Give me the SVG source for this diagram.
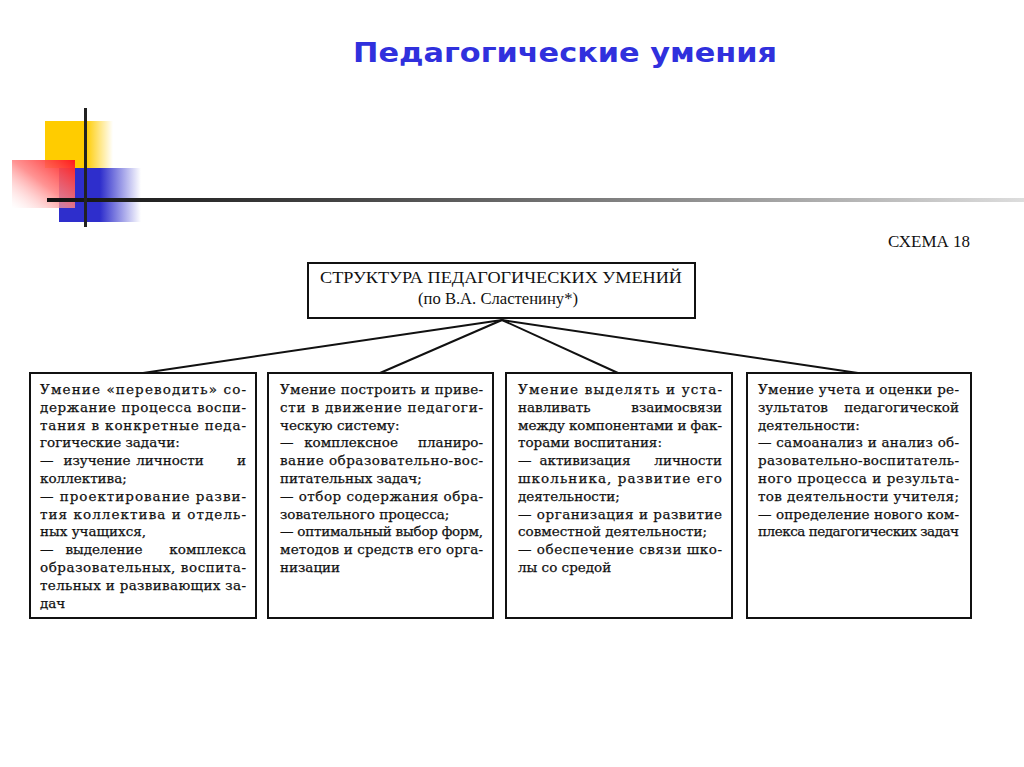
<svg xmlns="http://www.w3.org/2000/svg" width="1024" height="767" viewBox="0 0 1024 767">
<defs>
<linearGradient id="gYel" x1="0" y1="0" x2="1" y2="0">
<stop offset="0" stop-color="#FFCC00"/><stop offset="0.6" stop-color="#FFCC00"/><stop offset="1" stop-color="#FFCC00" stop-opacity="0"/>
</linearGradient>
<linearGradient id="gBlue" x1="0" y1="0" x2="1" y2="0">
<stop offset="0" stop-color="#2E2ECC"/><stop offset="0.5" stop-color="#2E2ECC"/><stop offset="1" stop-color="#2E2ECC" stop-opacity="0"/>
</linearGradient>
<linearGradient id="gRed" x1="1" y1="0" x2="0" y2="1">
<stop offset="0" stop-color="#FF1A1A"/><stop offset="0.5" stop-color="#FF8080" stop-opacity="0.85"/><stop offset="1" stop-color="#FFFFFF" stop-opacity="0.3"/>
</linearGradient>
<linearGradient id="gLine" x1="0" y1="0" x2="1" y2="0">
<stop offset="0" stop-color="#111"/><stop offset="0.3" stop-color="#444"/><stop offset="0.7" stop-color="#999"/><stop offset="1" stop-color="#ddd"/>
</linearGradient>
</defs>
<style>
.title{font-family:Verdana,"DejaVu Sans",sans-serif;font-weight:bold;font-size:27px;fill:#3030DD}
.box{fill:#fff;stroke:#111;stroke-width:2}
.t{font-family:"DejaVu Serif","Liberation Serif",serif;font-size:13.5px;fill:#111;stroke:#111;stroke-width:0.25}
.h{font-family:"Liberation Serif","Times New Roman",serif;font-size:16px;fill:#111}
.conn line{stroke:#111;stroke-width:2}
</style>
<rect width="1024" height="767" fill="#fff"/>
<text class="title" x="565" y="62" text-anchor="middle" textLength="424" lengthAdjust="spacingAndGlyphs">Педагогические умения</text>
<g id="decor">
<rect x="45" y="121" width="68" height="47" fill="url(#gYel)"/>
<rect x="59" y="168" width="82" height="54" fill="url(#gBlue)"/>
<rect x="12" y="160" width="63" height="48" fill="url(#gRed)"/>
<rect x="47" y="198" width="977" height="4" fill="url(#gLine)"/>
<rect x="84" y="108" width="3" height="119" fill="#222"/>
</g>
<text class="h" x="970" y="247" text-anchor="end" font-size="14" textLength="82" lengthAdjust="spacingAndGlyphs">СХЕМА 18</text>
<g class="conn" id="connectors">
<line x1="502" y1="320" x2="143" y2="373"/>
<line x1="502" y1="320" x2="380" y2="373"/>
<line x1="502" y1="320" x2="618" y2="373"/>
<line x1="502" y1="320" x2="858" y2="373"/>
</g>
<g id="root">
<rect class="box" x="308" y="263" width="387" height="55"/>
<text class="h" x="320" y="283" textLength="362" lengthAdjust="spacingAndGlyphs">СТРУКТУРА ПЕДАГОГИЧЕСКИХ УМЕНИЙ</text>
<text class="h" x="498" y="304" text-anchor="middle" font-size="14" textLength="160" lengthAdjust="spacingAndGlyphs">(по В.А. Сластенину*)</text>
</g>
<g id="box1">
<rect class="box" x="30" y="373" width="226" height="245"/>
<g class="t">
<text x="40" y="394" textLength="206" lengthAdjust="spacing">Умение «переводить» со-</text>
<text x="40" y="411.8" textLength="206" lengthAdjust="spacing">держание процесса воспи-</text>
<text x="40" y="429.6" textLength="206" lengthAdjust="spacing">тания в конкретные педа-</text>
<text x="40" y="447.4">гогические задачи:</text>
<text x="40" y="465.2">—</text><text x="97" y="465.2" text-anchor="middle">изучение</text><text x="170" y="465.2" text-anchor="middle">личности</text><text x="246" y="465.2" text-anchor="end">и</text>
<text x="40" y="483">коллектива;</text>
<text x="40" y="500.8" textLength="206" lengthAdjust="spacing">— проектирование разви-</text>
<text x="40" y="518.6" textLength="206" lengthAdjust="spacing">тия коллектива и отдель-</text>
<text x="40" y="536.4">ных учащихся,</text>
<text x="40" y="554.2">—</text><text x="104" y="554.2" text-anchor="middle">выделение</text><text x="246" y="554.2" text-anchor="end">комплекса</text>
<text x="40" y="572" textLength="206" lengthAdjust="spacing">образовательных, воспита-</text>
<text x="40" y="589.8" textLength="206" lengthAdjust="spacing">тельных и развивающих за-</text>
<text x="40" y="607.6">дач</text>
</g>
</g>
<g id="box2">
<rect class="box" x="268" y="373" width="225" height="245"/>
<g class="t">
<text x="280" y="394" textLength="203" lengthAdjust="spacing">Умение построить и приве-</text>
<text x="280" y="411.8" textLength="203" lengthAdjust="spacing">сти в движение педагоги-</text>
<text x="280" y="429.6">ческую систему:</text>
<text x="280" y="447.4">—</text><text x="351" y="447.4" text-anchor="middle">комплексное</text><text x="483" y="447.4" text-anchor="end">планиро-</text>
<text x="280" y="465.2" textLength="203" lengthAdjust="spacing">вание образовательно-вос-</text>
<text x="280" y="483">питательных задач;</text>
<text x="280" y="500.8" textLength="203" lengthAdjust="spacing">— отбор содержания обра-</text>
<text x="280" y="518.6">зовательного процесса;</text>
<text x="280" y="536.4" textLength="203" lengthAdjust="spacing">— оптимальный выбор форм,</text>
<text x="280" y="554.2" textLength="203" lengthAdjust="spacing">методов и средств его орга-</text>
<text x="280" y="572">низации</text>
</g>
</g>
<g id="box3">
<rect class="box" x="506" y="373" width="226" height="245"/>
<g class="t">
<text x="518" y="394" textLength="204" lengthAdjust="spacing">Умение выделять и уста-</text>
<text x="518" y="411.8">навливать</text><text x="722" y="411.8" text-anchor="end">взаимосвязи</text>
<text x="518" y="429.6" textLength="204" lengthAdjust="spacing">между компонентами и фак-</text>
<text x="518" y="447.4">торами воспитания:</text>
<text x="518" y="465.2">—</text><text x="585" y="465.2" text-anchor="middle">активизация</text><text x="722" y="465.2" text-anchor="end">личности</text>
<text x="518" y="483" textLength="204" lengthAdjust="spacing">школьника, развитие его</text>
<text x="518" y="500.8">деятельности;</text>
<text x="518" y="518.6" textLength="204" lengthAdjust="spacing">— организация и развитие</text>
<text x="518" y="536.4">совместной деятельности;</text>
<text x="518" y="554.2" textLength="204" lengthAdjust="spacing">— обеспечение связи шко-</text>
<text x="518" y="572">лы со средой</text>
</g>
</g>
<g id="box4">
<rect class="box" x="747" y="373" width="224" height="245"/>
<g class="t">
<text x="758" y="394" textLength="201" lengthAdjust="spacing">Умение учета и оценки ре-</text>
<text x="758" y="411.8">зультатов</text><text x="959" y="411.8" text-anchor="end">педагогической</text>
<text x="758" y="429.6">деятельности:</text>
<text x="758" y="447.4" textLength="201" lengthAdjust="spacing">— самоанализ и анализ об-</text>
<text x="758" y="465.2" textLength="201" lengthAdjust="spacing">разовательно-воспитатель-</text>
<text x="758" y="483" textLength="201" lengthAdjust="spacing">ного процесса и результа-</text>
<text x="758" y="500.8" textLength="201" lengthAdjust="spacing">тов деятельности учителя;</text>
<text x="758" y="518.6" textLength="201" lengthAdjust="spacing">— определение нового ком-</text>
<text x="758" y="536.4" textLength="201" lengthAdjust="spacing">плекса педагогических задач</text>
</g>
</g>
</svg>
